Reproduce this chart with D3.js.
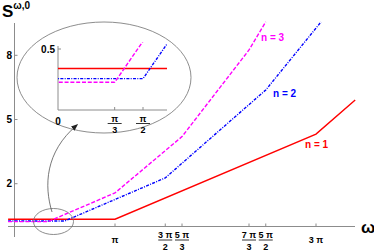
<!DOCTYPE html>
<html>
<head>
<meta charset="utf-8">
<script src="https://cdn.jsdelivr.net/npm/d3@7"></script>
<style>
  body { margin: 0; background: #fff; }
  text { font-family: "Liberation Sans", Arial, sans-serif; font-weight: bold; }
</style>
</head>
<body>
<div id="chart"></div>
<script>
const PI = Math.PI

// series: [omega, S] corner points
const n1 = [[-0.2, 0.34], [PI, 0.34], [3 * PI, 4.32], [3.39 * PI, 5.91]]
const n2 = [[-0.2, 0.257], [PI / 2, 0.257], [3 * PI / 2, 2.27], [5 * PI / 2, 6.38], [3.05 * PI, 9.56]]
const n3 = [[-0.2, 0.227], [PI / 3, 0.227], [PI, 1.57], [5 * PI / 3, 4.2], [7 * PI / 3, 8.25], [2.5 * PI, 9.56]]

const seriesNames = ["n = 1", "n = 2", "n = 3"]
const seriesColors = ["#ff0000", "#0000ff", "#ff00ff"]

const yTicks = [2, 5, 8]
// x ticks: value, numerator, denominator ("" = no fraction)
const xTicks = [
  [PI, "π", ""],
  [3 * PI / 2, "3 π", "2"],
  [5 * PI / 3, "5 π", "3"],
  [7 * PI / 3, "7 π", "3"],
  [5 * PI / 2, "5 π", "2"],
  [3 * PI, "3 π", ""]
]
const insetTicks = [[PI / 3, "π", "3"], [PI / 2, "π", "2"]]

const width = 374, height = 251
const axisColor = "#8c8c8c"

const svg = d3.select("#chart").append("svg")
  .attr("width", width)
  .attr("height", height)

const x = d3.scaleLinear().domain([0, 3 * PI]).range([14.5, 316])
const y = d3.scaleLinear().domain([0, 8]).range([226.5, 55.3])

/* axes */
svg.append("line")
  .attr("x1", 8).attr("x2", 355)
  .attr("y1", y(0)).attr("y2", y(0))
  .attr("stroke", axisColor).attr("stroke-width", 1)
svg.append("line")
  .attr("x1", x(0)).attr("x2", x(0))
  .attr("y1", 23).attr("y2", 237)
  .attr("stroke", axisColor).attr("stroke-width", 1)

/* y ticks */
const yt = svg.append("g")
yt.selectAll("line").data(yTicks).join("line")
  .attr("x1", x(0)).attr("x2", x(0) + 3)
  .attr("y1", d => y(d)).attr("y2", d => y(d))
  .attr("stroke", axisColor)
yt.selectAll("text").data(yTicks).join("text")
  .attr("x", 12).attr("y", d => y(d) + 3.5)
  .attr("text-anchor", "end")
  .attr("font-size", 10)
  .text(d => d)

/* x ticks */
function fractionTicks(g, ticks, sx, y0, size) {
  const t = g.selectAll("g").data(ticks).join("g")
    .attr("transform", d => `translate(${sx(d[0])},${y0})`)
  t.append("line")
    .attr("y1", -3).attr("y2", 0)
    .attr("stroke", axisColor)
  t.filter(d => d[2] === "").append("text")
    .attr("y", 16)
    .attr("text-anchor", "middle")
    .attr("font-size", size)
    .text(d => d[1])
  const f = t.filter(d => d[2] !== "")
  f.append("text")
    .attr("y", 11.5)
    .attr("text-anchor", "middle")
    .attr("font-size", size)
    .text(d => d[1])
  f.append("line")
    .attr("x1", -7).attr("x2", 7)
    .attr("y1", 13.5).attr("y2", 13.5)
    .attr("stroke", "#000").attr("stroke-width", 0.8)
  f.append("text")
    .attr("y", 23)
    .attr("text-anchor", "middle")
    .attr("font-size", size)
    .text(d => d[2])
}
fractionTicks(svg.append("g"), xTicks, x, y(0), 9)

/* axis labels */
const yl = svg.append("text").attr("x", 2).attr("y", 17).attr("font-size", 17)
yl.append("tspan").text("S")
yl.append("tspan").attr("font-size", 10).attr("dy", -8).text("ω,0")
svg.append("text")
  .attr("x", 361).attr("y", 233)
  .attr("font-size", 17)
  .text("ω")

/* lines */
const line = d3.line().x(d => x(d[0])).y(d => y(d[1]))
const series = [n1, n2, n3]
const dashes = [null, "3,1.3,1,1.3", "4,1.8"]

svg.append("g").selectAll("path").data(series).join("path")
  .attr("d", line)
  .attr("fill", "none")
  .attr("stroke", (d, i) => seriesColors[i])
  .attr("stroke-width", 1.4)
  .attr("stroke-dasharray", (d, i) => dashes[i])

/* line labels */
const labelPos = [[305, 148], [273, 97], [261, 41]]
svg.append("g").selectAll("text").data(seriesNames).join("text")
  .attr("x", (d, i) => labelPos[i][0])
  .attr("y", (d, i) => labelPos[i][1])
  .attr("font-size", 10)
  .attr("fill", (d, i) => seriesColors[i])
  .text(d => d)

/* zoom ellipses + arrow */
svg.append("ellipse")
  .attr("cx", 104).attr("cy", 77.5).attr("rx", 87).attr("ry", 55.5)
  .attr("fill", "none").attr("stroke", "#707070").attr("stroke-width", 0.8)
svg.append("ellipse")
  .attr("cx", 53.5).attr("cy", 221.5).attr("rx", 20).attr("ry", 13)
  .attr("fill", "none").attr("stroke", "#707070").attr("stroke-width", 0.8)

svg.append("defs").append("marker")
  .attr("id", "arrow")
  .attr("viewBox", "0 0 10 10")
  .attr("refX", 8).attr("refY", 5)
  .attr("markerWidth", 7).attr("markerHeight", 7)
  .attr("markerUnits", "userSpaceOnUse")
  .attr("orient", "auto")
  .append("path")
  .attr("d", "M0,1 L10,5 L0,9 Z")
  .attr("fill", "#222")
svg.append("path")
  .attr("d", "M52,212 C44,186 45,152 77,125")
  .attr("fill", "none")
  .attr("stroke", "#555")
  .attr("stroke-width", 0.8)
  .attr("marker-end", "url(#arrow)")

/* inset */
const ix = d3.scaleLinear().domain([0, PI / 2]).range([58, 143])
const iy = d3.scaleLinear().domain([0, 0.5]).range([110, 49])
const inset = svg.append("g")

svg.select("defs").append("clipPath").attr("id", "insetClip")
  .append("rect")
  .attr("x", ix(0)).attr("y", 42)
  .attr("width", 167 - ix(0)).attr("height", iy(0) - 42)

inset.append("line")
  .attr("x1", ix(0)).attr("x2", 167)
  .attr("y1", iy(0)).attr("y2", iy(0))
  .attr("stroke", axisColor)
inset.append("line")
  .attr("x1", ix(0)).attr("x2", ix(0))
  .attr("y1", 46).attr("y2", iy(0))
  .attr("stroke", axisColor)
inset.append("line")
  .attr("x1", ix(0)).attr("x2", ix(0) + 3)
  .attr("y1", iy(0.5)).attr("y2", iy(0.5))
  .attr("stroke", axisColor)
inset.append("text")
  .attr("x", 55).attr("y", iy(0.5) + 4)
  .attr("text-anchor", "end")
  .attr("font-size", 10)
  .text("0.5")
inset.append("text")
  .attr("x", ix(0)).attr("y", 125)
  .attr("text-anchor", "middle")
  .attr("font-size", 10)
  .text("0")
fractionTicks(inset.append("g"), insetTicks, ix, iy(0), 9)

const iline = d3.line().x(d => ix(d[0])).y(d => iy(d[1]))
inset.append("g").attr("clip-path", "url(#insetClip)")
  .selectAll("path").data(series).join("path")
  .attr("d", iline)
  .attr("fill", "none")
  .attr("stroke", (d, i) => seriesColors[i])
  .attr("stroke-width", 1.4)
  .attr("stroke-dasharray", (d, i) => dashes[i])
</script>
</body>
</html>
